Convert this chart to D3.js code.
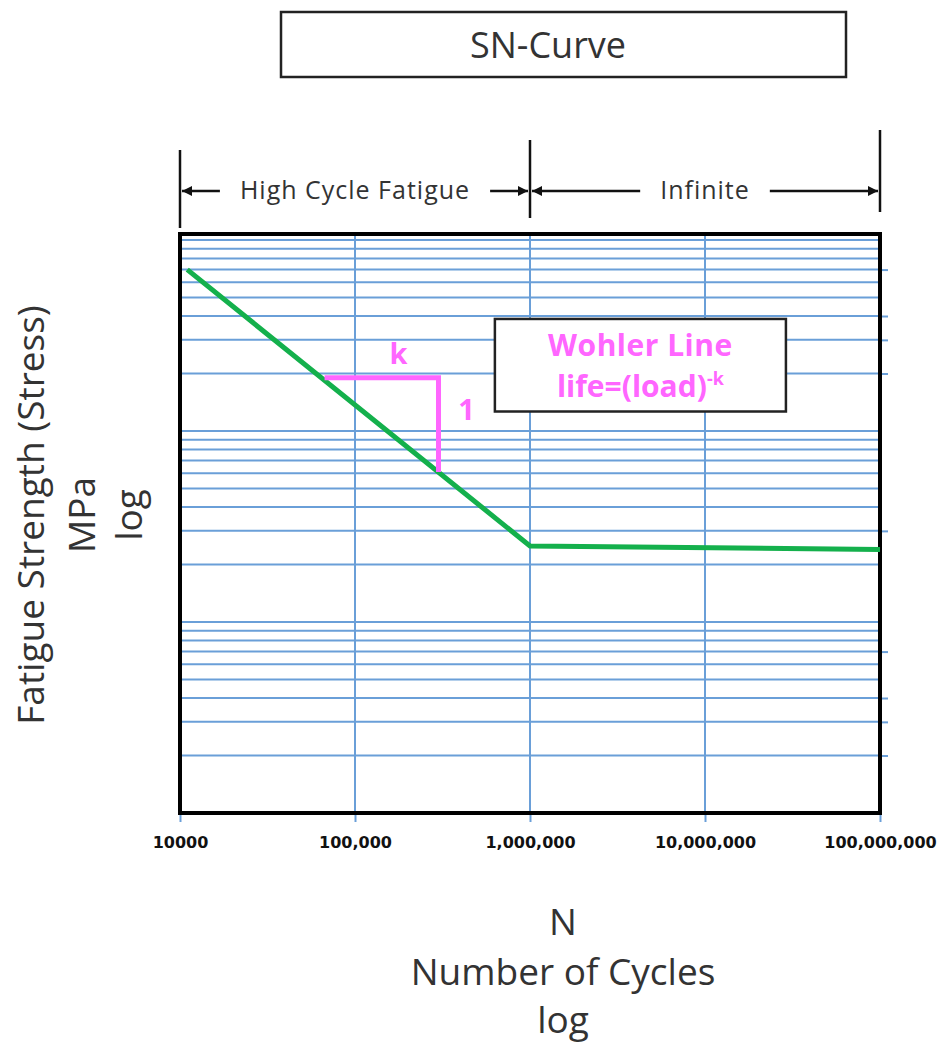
<!DOCTYPE html>
<html>
<head>
<meta charset="UTF-8">
<title>SN-Curve</title>
<script src="https://cdn.jsdelivr.net/npm/d3@7"></script>
<style>
	body { margin: 0; background: #fff; }
	text { font-family: "Open Sans", sans-serif; }
</style>
</head>
<body>
<div id="chart"></div>
<script>
// axis ticks (log N) and their printed labels
var cycleTicks = [1e4, 1e5, 1e6, 1e7, 1e8];
var cycleTickLabels = ["10000", "100,000", "1,000,000", "10,000,000", "100,000,000"];
// the S-N curve: cycles vs stress (MPa)
var curveCycles = [11000, 1e6, 1e8];
var curveStress = [7000, 250, 240];
// slope triangle (k : 1)
var slopeCycles = [67000, 300000, 300000];
var slopeStress = [1900, 1900, 610];
// regions above the plot
var regionBounds = [1e4, 1e6, 1e8];
var regionNames = ["High Cycle Fatigue", "Infinite"];
// little ticks poking out of the right border
var edgeTickStress = [20, 30, 40, 70, 300, 2000, 3000, 4000, 7000];
// corners of the Wohler note box
var noteCycles = [630000, 29000000];
var noteStress = [3860, 1265];

var width = 948, height = 1047;
var plot = {left: 180, right: 880, top: 234, bottom: 813};
var gridColor = "#6a9fd8";
var pink = "#ff66ff";
var textGrey = "#333";

var svg = d3.select("#chart").append("svg")
	.attr("width", width)
	.attr("height", height);

var x = d3.scaleLog().domain([1e4, 1e8]).range([plot.left, plot.right]);
var y = d3.scaleLog().domain([10, 10000]).range([plot.bottom, 240]);

// arrow head
svg.append("defs").append("marker")
	.attr("id", "head")
	.attr("viewBox", "0 0 10 10")
	.attr("refX", 10).attr("refY", 5)
	.attr("markerUnits", "userSpaceOnUse")
	.attr("markerWidth", 11).attr("markerHeight", 10)
	.attr("orient", "auto")
	.append("path")
	.attr("d", "M0,0L10,5L0,10Z")
	.attr("fill", "#111");

// title box
svg.append("rect")
	.attr("x", 281).attr("y", 12)
	.attr("width", 565).attr("height", 65)
	.attr("fill", "#fff").attr("stroke", "#222").attr("stroke-width", 2.5);
svg.append("text")
	.attr("x", 548).attr("y", 58)
	.attr("text-anchor", "middle")
	.attr("font-size", 36)
	.attr("fill", textGrey)
	.text("SN-Curve");

// horizontal grid (log stress)
var gridTicks = y.ticks().filter(function(d){ return d > 10; });
svg.append("g").selectAll("line")
	.data(gridTicks)
	.enter().append("line")
	.attr("x1", plot.left).attr("x2", plot.right)
	.attr("y1", function(d){ return y(d); })
	.attr("y2", function(d){ return y(d); })
	.attr("stroke", gridColor).attr("stroke-width", 2);

// vertical grid (log N)
svg.append("g").selectAll("line")
	.data(cycleTicks.slice(1, -1))
	.enter().append("line")
	.attr("x1", function(d){ return x(d); })
	.attr("x2", function(d){ return x(d); })
	.attr("y1", plot.top).attr("y2", plot.bottom)
	.attr("stroke", gridColor).attr("stroke-width", 2);

// x axis
var xAxis = svg.append("g")
	.attr("transform", "translate(0," + plot.bottom + ")")
	.call(d3.axisBottom(x)
		.tickValues(cycleTicks)
		.tickSize(9)
		.tickPadding(15)
		.tickFormat(function(d, i){ return cycleTickLabels[i]; }));
xAxis.select(".domain").remove();
xAxis.selectAll(".tick line").attr("stroke", gridColor).attr("stroke-width", 2);
xAxis.selectAll(".tick text")
	.style("font-family", "'DejaVu Sans', sans-serif")
	.style("font-weight", "bold")
	.style("font-size", "16px")
	.attr("fill", "#111");

// right edge ticks
var rAxis = svg.append("g")
	.attr("transform", "translate(" + plot.right + ",0)")
	.call(d3.axisRight(y).tickValues(edgeTickStress).tickSize(8).tickFormat(""));
rAxis.select(".domain").remove();
rAxis.selectAll(".tick line").attr("stroke", gridColor).attr("stroke-width", 2);

// plot frame
svg.append("rect")
	.attr("x", plot.left).attr("y", plot.top)
	.attr("width", plot.right - plot.left)
	.attr("height", plot.bottom - plot.top)
	.attr("fill", "none").attr("stroke", "#000").attr("stroke-width", 4);

// S-N curve
var curve = d3.line()
	.x(function(d){ return x(d[0]); })
	.y(function(d){ return y(d[1]); });
svg.append("path")
	.datum(d3.zip(curveCycles, curveStress))
	.attr("d", curve)
	.attr("fill", "none")
	.attr("stroke", "#14b04c")
	.attr("stroke-width", 5);

// slope triangle
svg.append("path")
	.datum(d3.zip(slopeCycles, slopeStress))
	.attr("d", curve)
	.attr("fill", "none")
	.attr("stroke", pink)
	.attr("stroke-width", 5);
svg.append("text")
	.attr("x", x(Math.sqrt(slopeCycles[0] * slopeCycles[1])) + 17)
	.attr("y", y(slopeStress[0]) - 14)
	.attr("text-anchor", "middle")
	.attr("font-size", 29).attr("font-weight", "bold")
	.attr("fill", pink)
	.text("k");
svg.append("text")
	.attr("x", x(slopeCycles[2]) + 28)
	.attr("y", (y(slopeStress[1]) + y(slopeStress[2])) / 2 - 5)
	.attr("text-anchor", "middle")
	.attr("font-size", 29).attr("font-weight", "bold")
	.attr("fill", pink)
	.text("1");

// Wohler note
var nx0 = x(noteCycles[0]), nx1 = x(noteCycles[1]);
var ny0 = y(noteStress[0]), ny1 = y(noteStress[1]);
svg.append("rect")
	.attr("x", nx0).attr("y", ny0)
	.attr("width", nx1 - nx0).attr("height", ny1 - ny0)
	.attr("fill", "#fff").attr("stroke", "#222").attr("stroke-width", 2.5);
svg.append("text")
	.attr("x", (nx0 + nx1) / 2).attr("y", ny0 + 37)
	.attr("text-anchor", "middle")
	.attr("font-size", 30).attr("font-weight", "bold")
	.attr("letter-spacing", 0.5)
	.attr("fill", pink)
	.text("Wohler Line");
var life = svg.append("text")
	.attr("x", (nx0 + nx1) / 2).attr("y", ny0 + 78)
	.attr("text-anchor", "middle")
	.attr("font-size", 30).attr("font-weight", "bold")
	.attr("fill", pink);
life.append("tspan").text("life=(load)");
life.append("tspan").attr("dy", -12).attr("font-size", 18).text("-k");

// region brackets above the plot
var barTop = [150, 140, 130], barBottom = [228, 218, 212];
svg.append("g").selectAll("line")
	.data(regionBounds)
	.enter().append("line")
	.attr("x1", function(d){ return x(d); })
	.attr("x2", function(d){ return x(d); })
	.attr("y1", function(d, i){ return barTop[i]; })
	.attr("y2", function(d, i){ return barBottom[i]; })
	.attr("stroke", "#111").attr("stroke-width", 2.5);

var arrowY = 191;
regionNames.forEach(function(name, i){
	var a = x(regionBounds[i]), b = x(regionBounds[i + 1]);
	var t = svg.append("text")
		.attr("x", (a + b) / 2).attr("y", arrowY + 8)
		.attr("text-anchor", "middle")
		.attr("font-size", 25)
		.attr("letter-spacing", 1)
		.attr("fill", textGrey)
		.text(name);
	var w = t.node().getComputedTextLength();
	var gap = 20;
	svg.append("line")
		.attr("x1", (a + b) / 2 - w / 2 - gap).attr("x2", a + 2)
		.attr("y1", arrowY).attr("y2", arrowY)
		.attr("stroke", "#111").attr("stroke-width", 2.5)
		.attr("marker-end", "url(#head)");
	svg.append("line")
		.attr("x1", (a + b) / 2 + w / 2 + gap).attr("x2", b - 2)
		.attr("y1", arrowY).attr("y2", arrowY)
		.attr("stroke", "#111").attr("stroke-width", 2.5)
		.attr("marker-end", "url(#head)");
});

// axis titles
var yTitle = svg.append("g").attr("transform", "translate(0,515) rotate(-90)");
[["Fatigue Strength (Stress)", 44], ["MPa", 95], ["log", 142]].forEach(function(r){
	yTitle.append("text")
		.attr("x", 0).attr("y", r[1])
		.attr("text-anchor", "middle")
		.attr("font-size", 37)
		.attr("fill", textGrey)
		.text(r[0]);
});
[["N", 935], ["Number of Cycles", 985], ["log", 1033]].forEach(function(r){
	svg.append("text")
		.attr("x", 563).attr("y", r[1])
		.attr("text-anchor", "middle")
		.attr("font-size", 37)
		.attr("fill", textGrey)
		.text(r[0]);
});
</script>
</body>
</html>
